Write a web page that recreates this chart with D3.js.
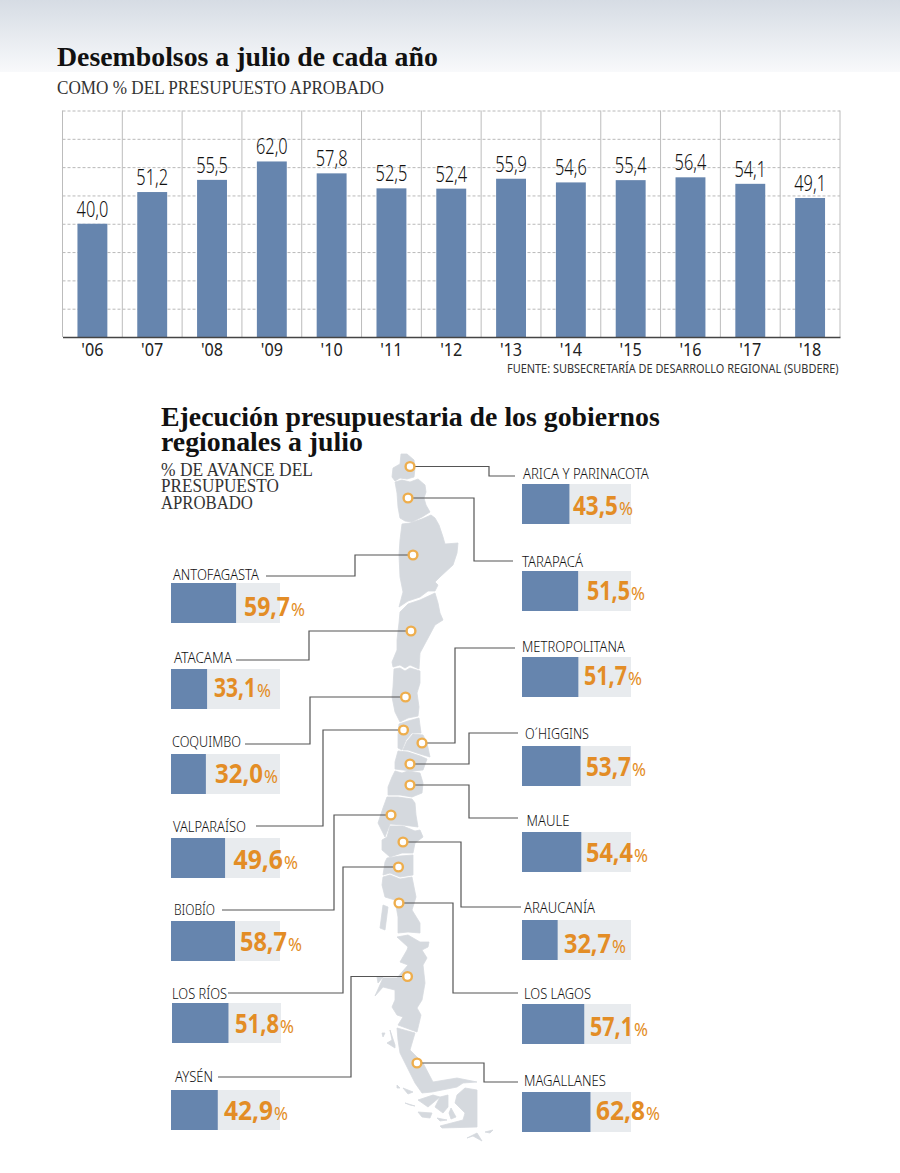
<!DOCTYPE html>
<html>
<head>
<meta charset="utf-8">
<script src="https://cdn.jsdelivr.net/npm/d3@7"></script>
<style>
  html, body { margin: 0; padding: 0; background: #fff; }
  svg { display: block; }
  .narrow { font-family: "Noto Sans", "Open Sans", sans-serif; }
  .serif { font-family: "Liberation Serif", serif; }
</style>
</head>
<body>
<div id="chart"></div>
<script>
// Desembolsos
const years = ["'06", "'07", "'08", "'09", "'10", "'11", "'12", "'13", "'14", "'15", "'16", "'17", "'18"];
const disbursed = [40.0, 51.2, 55.5, 62.0, 57.8, 52.5, 52.4, 55.9, 54.6, 55.4, 56.4, 54.1, 49.1];

// Gobiernos regionales
const regions = ["ARICA Y PARINACOTA", "TARAPACÁ", "ANTOFAGASTA", "ATACAMA", "COQUIMBO", "VALPARAÍSO", "METROPOLITANA", "O´HIGGINS", "MAULE", "BIOBÍO", "ARAUCANÍA", "LOS RÍOS", "LOS LAGOS", "AYSÉN", "MAGALLANES"];
const progress = [43.5, 51.5, 59.7, 33.1, 32.0, 49.6, 51.7, 53.7, 54.4, 58.7, 32.7, 51.8, 57.1, 42.9, 62.8];

// where each region sits on the page: bar x/y, label x/baseline/width, value x/baseline/width
const barX = [522, 522, 171, 171, 171, 171, 522, 522, 522, 171, 522, 172, 522, 171, 522];
const barY = [484, 571, 583, 669, 754, 838, 657, 746, 832, 921, 920, 1003, 1004, 1090, 1092];
const labelX = [523, 522, 173, 174, 172, 173, 522, 525, 526.5, 174, 524, 172, 524, 175, 524];
const labelY = [479, 567, 580, 663, 747, 832, 652, 739, 826, 915, 913, 999, 999, 1082, 1086];
const labelW = [126, 61, 86, 58, 69, 73, 103, 64, 43, 41, 71, 55, 67, 38, 82];
const valueX = [573, 587, 244, 214, 215, 233.5, 584, 586, 586, 240, 564, 235, 590, 224, 596];
const valueY = [515, 600, 616, 697, 783, 869, 685, 776, 862, 951, 953, 1033, 1036, 1120, 1120];
const valueW = [60, 58, 61, 57, 63, 64.5, 58, 60, 62, 62, 62, 59, 58, 64, 64];

// leader lines: dot -> elbow x -> label side
const dotX = [410, 408, 413, 411, 405.5, 403.5, 422, 410, 410, 391, 403, 398.5, 399, 407.5, 417];
const dotY = [466.5, 498, 555, 631, 697, 730, 743, 764, 785, 815, 842, 867, 903, 976.5, 1063];
const elbowX = [489, 474, 355, 309, 310, 323, 455, 469, 469, 334, 461, 343, 453, 351, 484];
const endX = [515, 513, 266, 236, 245, 256, 515, 518, 518, 222, 521, 228, 518, 218, 518];
const endY = [476, 561, 576, 660, 744, 826, 648, 733, 818, 910, 907, 993, 993, 1077, 1082];

// silueta de Chile, traced by hand
const mapShapes = [
  [[401,454],[407,454],[414,460],[415,468],[414,477],[407,479],[400,478],[395,481],[392,477],[393,468],[400,464]],
  [[395,482],[402,480],[410,482],[418,479],[425,485],[426,492],[424,498],[426,505],[430,512],[422,517],[412,522],[405,521],[400,518],[398,507],[397,493]],
  [[402,524],[410,523],[422,519],[431,515],[435,518],[439,525],[443,537],[445,544],[458,543],[457,553],[453,565],[440,577],[435,582],[438,585],[435,591],[428,591],[420,597],[408,601],[399,607],[403,592],[400,577],[399,555],[400,540]],
  [[400,612],[408,604],[420,600],[435,593],[438,603],[440,613],[443,620],[435,625],[427,640],[420,653],[419,669],[410,665],[405,668],[400,665],[393,667],[392,662],[397,650],[397,640],[399,623]],
  [[394,669],[400,668],[405,671],[410,668],[420,671],[420,683],[417,693],[419,707],[418,716],[408,718],[400,722],[395,712],[392,697],[393,687]],
  [[399,724],[408,721],[419,718],[421,733],[412,733],[406,740],[402,750],[398,748],[398,735]],
  [[413,734],[423,735],[427,743],[430,757],[420,754],[408,750],[403,750],[407,741]],
  [[398,751],[408,752],[420,756],[427,759],[423,770],[412,771],[403,770],[395,769],[395,762]],
  [[395,771],[402,773],[408,771],[420,773],[423,783],[422,793],[412,797],[400,795],[388,795],[388,787],[392,777]],
  [[387,797],[398,797],[412,799],[415,803],[416,815],[418,827],[403,825],[390,824],[385,837],[378,823],[383,808]],
  [[390,826],[403,826],[415,831],[420,830],[423,837],[415,843],[413,853],[402,853],[390,857],[382,850],[382,840],[387,837]],
  [[387,858],[400,856],[413,855],[413,875],[400,877],[390,873],[383,875],[385,862]],
  [[383,877],[390,875],[400,879],[412,877],[416,897],[412,910],[420,923],[420,933],[408,932],[398,933],[398,917],[395,900],[385,897],[382,885]],
  [[383,905],[388,907],[385,930],[380,928]],
  [[397,937],[408,935],[420,942],[429,942],[428,947],[422,950],[427,958],[423,965],[425,983],[422,1000],[417,1008],[421,1015],[417,1032],[398,1025],[403,1017],[397,1015],[392,1007],[395,1000],[395,990],[383,987],[375,996],[383,978],[397,978],[408,965],[400,962],[407,950],[408,947]],
  [[397,1028],[415,1033],[410,1050],[423,1063],[433,1082],[457,1078],[477,1082],[463,1083],[457,1087],[432,1092],[422,1093],[415,1083],[407,1067],[400,1053],[398,1040]],
  [[465,1088],[477,1090],[477,1127],[442,1128],[440,1126],[463,1120],[465,1113],[455,1103],[457,1095]],
  [[433,1095],[440,1097],[428,1107],[418,1100]],
  [[440,1097],[448,1095],[448,1107],[443,1113],[435,1107]],
  [[451,1108],[456,1117],[451,1119],[449,1113]],
  [[403,1088],[413,1092],[408,1094]],
  [[418,1112],[432,1113],[430,1118],[422,1117]],
  [[437,1118],[447,1120],[440,1121]],
  [[485,1132],[493,1130],[490,1133]],
  [[467,1138],[477,1133],[482,1141],[473,1136]],
  [[390,1030],[395,1045],[395,1048],[387,1043],[392,1040]],
  [[382,1033],[385,1033],[383,1037]],
  [[377,977],[383,977],[378,983]],
  [[397,1085],[400,1088],[397,1088]],
  [[405,1103],[415,1106],[410,1105]]
];

const width = 900;
const height = 1173;
const blue = "#6685ae";
const orange = "#e38d26";
const land = "#d5d9de";

const svg = d3.select("#chart")
  .append("svg")
  .attr("width", width)
  .attr("height", height)
  .attr("viewBox", [0, 0, width, height]);

const coma = v => v.toFixed(1).replace(".", ",");

// no condensed font here, so texts are scaled horizontally around their x
const scaleText = (node, k) => {
  const t = d3.select(node);
  const px = +t.attr("x") || 0;
  const py = +t.attr("y") || 0;
  t.attr("x", 0).attr("y", 0).attr("transform", `translate(${px},${py}) scale(${k},1)`);
};

// w: target width in px, or a function (d, i) giving it
const fit = (sel, w) => sel.each(function (d, i) {
  const target = typeof w === "function" ? w(d, i) : w;
  scaleText(this, target / this.getComputedTextLength());
});

const squeeze = (sel, k) => sel.each(function () { scaleText(this, k); });

// top band
const grad = svg.append("defs").append("linearGradient")
  .attr("id", "band").attr("x1", 0).attr("x2", 0).attr("y1", 0).attr("y2", 1);
grad.append("stop").attr("offset", 0).attr("stop-color", "#d6dce4");
grad.append("stop").attr("offset", 1).attr("stop-color", "#f8f9fb");
svg.append("rect").attr("width", width).attr("height", 72).attr("fill", "url(#band)");

// Titles
svg.append("text").attr("class", "serif").attr("x", 57).attr("y", 66)
  .attr("font-size", 27).attr("font-weight", "bold").attr("fill", "#111")
  .text("Desembolsos a julio de cada año").call(fit, 381);
svg.append("text").attr("class", "serif").attr("x", 57).attr("y", 94)
  .attr("font-size", 19).attr("fill", "#333")
  .text("COMO % DEL PRESUPUESTO APROBADO").call(fit, 327);

// Bar chart
const margin = { top: 110.5, right: 60, bottom: 836, left: 62.5 };

const x = d3.scaleBand()
  .domain(years)
  .range([margin.left, width - margin.right])
  .paddingInner(0.5)
  .paddingOuter(0.25);

const y = d3.scaleLinear()
  .domain([0, 80])
  .range([height - margin.bottom, margin.top]);

const yAxis = g => g
  .attr("transform", `translate(${margin.left},0)`)
  .call(d3.axisLeft(y).tickValues(d3.range(10, 90, 10)).tickSize(-(width - margin.right - margin.left)).tickFormat(""))
  .call(g => g.select(".domain").remove())
  .call(g => g.selectAll(".tick line")
    .attr("stroke", "#b9b9b9")
    .attr("stroke-dasharray", "3,2"));

svg.append("g").call(yAxis);

// column rules
svg.append("g")
  .attr("stroke", "#bcbcbc")
  .selectAll("line")
  .data(d3.range(years.length + 1))
  .join("line")
  .attr("x1", i => margin.left + i * x.step())
  .attr("x2", i => margin.left + i * x.step())
  .attr("y1", y(80))
  .attr("y2", y(0));

svg.append("g")
  .attr("fill", blue)
  .selectAll("rect")
  .data(disbursed)
  .join("rect")
  .attr("x", (d, i) => x(years[i]))
  .attr("width", x.bandwidth())
  .attr("y", d => y(d))
  .attr("height", d => y(0) - y(d));

svg.append("g")
  .attr("class", "narrow")
  .attr("text-anchor", "middle")
  .attr("font-size", 21)
  .attr("font-weight", 300)
  .attr("fill", "#111")
  .selectAll("text")
  .data(disbursed)
  .join("text")
  .attr("x", (d, i) => x(years[i]) + x.bandwidth() / 2)
  .attr("y", d => y(d) - 7)
  .text(coma)
  .call(squeeze, 0.78);

const xAxis = g => g
  .attr("transform", `translate(0,${y(0)})`)
  .call(d3.axisBottom(x).tickSize(0).tickPadding(6))
  .call(g => g.select(".domain").attr("stroke", "#444").attr("stroke-width", 1.6))
  .call(g => g.selectAll(".tick text")
    .attr("class", "narrow")
    .attr("font-size", 18)
    .attr("fill", "#222")
    .call(squeeze, 0.9));

svg.append("g").call(xAxis);

svg.append("text").attr("class", "narrow").attr("x", 507).attr("y", 373)
  .attr("font-size", 13).attr("fill", "#333")
  .text("FUENTE: SUBSECRETARÍA DE DESARROLLO REGIONAL (SUBDERE)").call(fit, 332);

// Second block titles
svg.append("text").attr("class", "serif").attr("x", 161).attr("y", 426)
  .attr("font-size", 27).attr("font-weight", "bold").attr("fill", "#111")
  .text("Ejecución presupuestaria de los gobiernos").call(fit, 499);
svg.append("text").attr("class", "serif").attr("x", 161).attr("y", 451)
  .attr("font-size", 27).attr("font-weight", "bold").attr("fill", "#111")
  .text("regionales a julio").call(fit, 202);

const subLines = ["% DE AVANCE DEL", "PRESUPUESTO", "APROBADO"];
const subY = [476, 492, 509];
const subW = [152, 118, 92];
subLines.forEach((t, i) => {
  svg.append("text").attr("class", "serif").attr("x", 161).attr("y", subY[i])
    .attr("font-size", 18).attr("fill", "#333")
    .text(t).call(fit, subW[i]);
});

// Map, the thin stroke closes the gaps between traced regions
const outline = d3.line();
svg.append("g")
  .attr("fill", land)
  .attr("stroke", land)
  .attr("stroke-width", 0.8)
  .attr("stroke-linejoin", "round")
  .selectAll("path")
  .data(mapShapes)
  .join("path")
  .attr("d", d => outline(d) + "Z");

// Leader lines
const leader = d3.line();
svg.append("g")
  .attr("fill", "none")
  .attr("stroke", "#555")
  .attr("stroke-width", 1.2)
  .selectAll("path")
  .data(regions)
  .join("path")
  .attr("d", (d, i) => leader([
    [dotX[i], dotY[i]],
    [elbowX[i], dotY[i]],
    [elbowX[i], endY[i]],
    [endX[i], endY[i]]
  ]));

svg.append("g")
  .attr("fill", "#fff")
  .attr("stroke", "#eeae4d")
  .attr("stroke-width", 2.4)
  .selectAll("circle")
  .data(regions)
  .join("circle")
  .attr("cx", (d, i) => dotX[i])
  .attr("cy", (d, i) => dotY[i])
  .attr("r", 4.4);

// Region bars
const barLen = d3.scaleLinear().domain([0, 100]).range([0, 109]);
const barH = 40;
const pctW = 14;

const rows = svg.append("g")
  .selectAll("g")
  .data(regions)
  .join("g");

rows.append("rect")
  .attr("x", (d, i) => barX[i])
  .attr("y", (d, i) => barY[i])
  .attr("width", barLen(100))
  .attr("height", barH)
  .attr("fill", "#e8ebee");

rows.append("rect")
  .attr("x", (d, i) => barX[i])
  .attr("y", (d, i) => barY[i])
  .attr("width", (d, i) => barLen(progress[i]))
  .attr("height", barH)
  .attr("fill", blue);

// each row holds one text of each kind, so i is taken from the region name
const rowIndex = d => regions.indexOf(d);

rows.append("text")
  .attr("class", "narrow")
  .attr("x", d => labelX[rowIndex(d)])
  .attr("y", d => labelY[rowIndex(d)])
  .attr("font-size", 15)
  .attr("font-weight", 300)
  .attr("fill", "#111")
  .text(d => d)
  .call(fit, d => labelW[rowIndex(d)]);

rows.append("text")
  .attr("class", "narrow")
  .attr("x", d => valueX[rowIndex(d)])
  .attr("y", d => valueY[rowIndex(d)])
  .attr("fill", orange)
  .attr("font-size", 26)
  .attr("font-weight", "bold")
  .text(d => coma(progress[rowIndex(d)]))
  .call(fit, d => valueW[rowIndex(d)] - pctW - 1);

rows.append("text")
  .attr("class", "narrow")
  .attr("x", d => valueX[rowIndex(d)] + valueW[rowIndex(d)] - pctW)
  .attr("y", d => valueY[rowIndex(d)])
  .attr("fill", orange)
  .attr("font-size", 18)
  .text("%")
  .call(fit, pctW);
</script>
</body>
</html>
